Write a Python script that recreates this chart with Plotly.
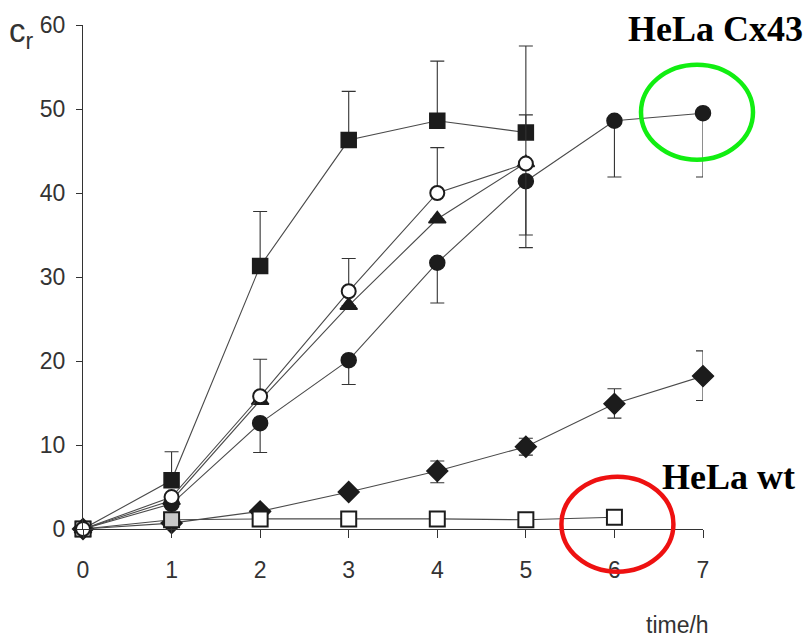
import plotly.graph_objects as go

# ---- data ----
time_h = [0, 1, 2, 3, 4, 5, 6, 7]

sq_filled_y = [0, 5.8, 31.3, 46.3, 48.6, 47.2]
sq_filled_up = [0, 3.4, 6.5, 5.8, 7.1, 10.3]

circ_open_y = [0, 3.8, 15.8, 28.3, 40.0, 43.5]
circ_open_up = [0, 0, 4.4, 3.9, 5.4, 5.8]

tri_y = [0, 3.4, 15.3, 26.6, 36.9, 43.6]
tri_dn = [0, 0, 0, 0, 0, 8.6]

circ_filled_y = [0, 3.0, 12.6, 20.1, 31.7, 41.4, 48.6, 49.5]
circ_filled_dn = [0, 0, 3.5, 2.9, 4.8, 7.9, 6.7, 7.6]

dia_y = [0, 0.7, 2.1, 4.4, 6.9, 9.8, 14.9, 18.2]
dia_up = [0, 0, 0, 0, 1.2, 1.0, 1.8, 3.0]
dia_dn = [0, 0, 0, 0, 1.4, 1.0, 1.7, 2.9]

sq_open_y = [0, 1.1, 1.2, 1.2, 1.2, 1.1, 1.4]
sq_open_dn = [0, 1.5, 0, 0, 0, 0, 0]

y_ticks = [0, 10, 20, 30, 40, 50, 60]
x_ticks = [0, 1, 2, 3, 4, 5, 6, 7]

X_RANGE = [0, 7]
Y_RANGE = [0, 60]

DARK = "#1c1c1c"
LINE = "#4a4a4a"
ERR = "#333333"

W, H = 808, 642
ML, MR, MT, MB = 83, 105, 20, 113
PW, PH = W - ML - MR, H - MT - MB

fig = go.Figure()


def add(y, symbol, fill, size, up=None, dn=None, line_w=1.5, colors=None):
    n = len(y)
    err = None
    if up is not None or dn is not None:
        err = dict(type="data", symmetric=False,
                   array=up if up is not None else [0] * n,
                   arrayminus=dn if dn is not None else [0] * n,
                   color=ERR, thickness=1.1, width=7)
    fig.add_trace(go.Scatter(
        x=time_h[:n], y=y, mode="lines+markers",
        line=dict(color=LINE, width=1.1),
        marker=dict(symbol=symbol, size=size,
                    color=colors if colors is not None else fill,
                    line=dict(color=DARK, width=line_w)),
        error_y=err, cliponaxis=False, showlegend=False))


add(dia_y, "diamond", DARK, 16, up=dia_up, dn=dia_dn)
add(circ_filled_y, "circle", DARK, 15, dn=circ_filled_dn)
add(tri_y, "triangle-up", DARK, 15, dn=tri_dn)
add(sq_filled_y, "square", DARK, 15, up=sq_filled_up)
add(sq_open_y, "square", "white", 15, dn=sq_open_dn, line_w=2,
    colors=["white", "#c8c8c8", "white", "white", "white", "white", "white"])
add(circ_open_y, "circle", "white", 14, up=circ_open_up, line_w=2)

axis_font = dict(family="Liberation Sans, Arial, sans-serif", size=23, color="#333333")

fig.update_xaxes(range=X_RANGE, tickvals=x_ticks, showgrid=False, zeroline=False,
                 showline=True, linecolor="#333333", linewidth=1.3,
                 ticks="outside", ticklen=8, tickwidth=1.2, tickcolor="#333333",
                 tickfont=axis_font, ticklabelstandoff=12)
fig.update_yaxes(range=Y_RANGE, tickvals=y_ticks, showgrid=False, zeroline=False,
                 showline=True, linecolor="#333333", linewidth=1.3,
                 ticks="outside", ticklen=6, tickwidth=1.2, tickcolor="#333333",
                 tickfont=axis_font, ticklabelstandoff=6)


def to_paper(xv, yv):
    px = (xv - X_RANGE[0]) / (X_RANGE[1] - X_RANGE[0])
    py = (yv - Y_RANGE[0]) / (Y_RANGE[1] - Y_RANGE[0])
    return px, py


def ellipse_around(xv, yv, dx_px, dy_px, rx_px, ry_px, color):
    cx, cy = to_paper(xv, yv)
    cx += dx_px / PW
    cy -= dy_px / PH
    fig.add_shape(type="circle", xref="paper", yref="paper",
                  x0=cx - rx_px / PW, x1=cx + rx_px / PW,
                  y0=cy - ry_px / PH, y1=cy + ry_px / PH,
                  line=dict(color=color, width=4.5), layer="above")


# highlight the last HeLa Cx43 point and the last HeLa wt point
ellipse_around(time_h[len(circ_filled_y) - 1], circ_filled_y[-1], -6, -1, 56, 48, "#11ee11")
ellipse_around(time_h[len(sq_open_y) - 1], sq_open_y[-1], 3, 7, 56, 48, "#ee1111")

serif_bold = dict(family="Liberation Serif, Times New Roman, serif", size=36, color="black")
fig.add_annotation(text="<b>HeLa Cx43</b>", xref="paper", yref="paper",
                   x=0.875, y=0.992, xanchor="left", yanchor="middle",
                   showarrow=False, font=serif_bold)
fig.add_annotation(text="<b>HeLa wt</b>", xref="paper", yref="paper",
                   x=0.93, y=0.104, xanchor="left", yanchor="middle",
                   showarrow=False, font=serif_bold)
fig.add_annotation(text="time/h", xref="paper", yref="paper",
                   x=0.905, y=-0.19, xanchor="left", yanchor="middle",
                   showarrow=False, font=axis_font)
fig.add_annotation(text="c<sub>r</sub>", xref="paper", yref="paper",
                   x=-0.122, y=0.985, xanchor="left", yanchor="middle",
                   showarrow=False,
                   font=dict(family="Liberation Sans, Arial, sans-serif", size=33, color="#333333"))

fig.update_layout(width=W, height=H,
                  margin=dict(l=ML, r=MR, t=MT, b=MB),
                  plot_bgcolor="white", paper_bgcolor="white")

fig.write_html("out.html")
